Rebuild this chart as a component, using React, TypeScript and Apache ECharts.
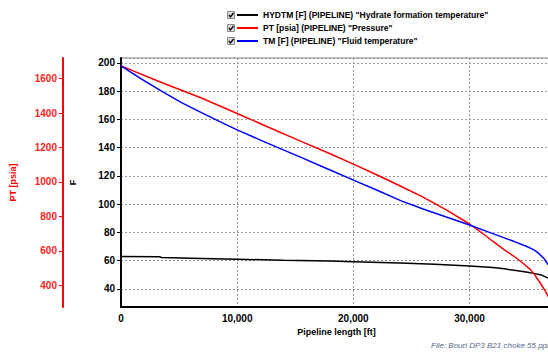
import React, { useEffect, useRef } from "react";
import * as echarts from "echarts";

// Pipeline length [ft] sample positions and values
const hydX = [0, 3300, 3500, 6000, 10000, 14000, 18000, 20000, 24000, 27000, 30000, 32000, 33000, 34000, 35000, 35500, 36200, 36800];
const hydY = [62.9, 62.8, 62.3, 61.8, 61.0, 60.3, 59.7, 59.3, 58.3, 57.4, 56.3, 55.1, 54.2, 53.0, 51.8, 51.0, 49.8, 47.6];

const ptX = [0, 3490, 6921, 10000, 12500, 15500, 18000, 20000, 22000, 24000, 26000, 28000, 30000, 31000, 32000, 33000, 34000, 34600, 35200, 35600, 36000, 36400, 36800];
const ptY = [1674, 1578, 1488, 1398, 1324, 1236, 1164, 1104, 1042, 978, 912, 838, 756, 708, 656, 606, 560, 528, 494, 462, 422, 380, 332];

const tmX = [0, 1775, 3490, 5206, 6921, 8500, 10000, 12500, 15500, 17500, 19960, 22000, 24070, 26000, 28000, 30000, 31300, 32650, 33800, 34940, 35500, 35940, 36400, 36770];
const tmY = [197.9, 188.6, 180.0, 171.9, 164.8, 158.5, 152.6, 143.6, 133.1, 126.0, 117.2, 110.0, 102.5, 96.6, 90.9, 85.3, 81.3, 77.2, 73.7, 70.0, 67.8, 65.3, 61.6, 57.0];

const seriesNames = [
  'HYDTM [F] (PIPELINE) "Hydrate formation temperature"',
  'PT [psia] (PIPELINE) "Pressure"',
  'TM [F] (PIPELINE) "Fluid temperature"',
];
const seriesColors = ["#000000", "#ff0000", "#0000ff"];

const xAxisName = "Pipeline length [ft]";
const fAxisName = "F";
const ptAxisName = "PT [psia]";
const fileLabel = "File: Bouri DP3 B21 choke 55.ppl";

const FONT = "'Liberation Sans', Arial, sans-serif";

const zip = (xs: number[], ys: number[]) => xs.map((x, i) => [x, ys[i]]);

export default function App() {
  const ref = useRef<HTMLDivElement>(null);
  useEffect(() => {
    if (!ref.current) return;
    const chart = echarts.init(ref.current, undefined, { renderer: "svg" });
    const grid = { left: 119, right: 8, top: 58, bottom: 46 };
    const split = { show: true, lineStyle: { color: "#999999", type: [2, 2] as any, width: 1 } };

    const legendRowsY = [15, 28, 41];
    const checkboxes: any[] = [];
    legendRowsY.forEach((cy) => {
      checkboxes.push({
        type: "rect",
        shape: { x: 227.5, y: cy - 3.5, width: 7, height: 7 },
        style: { fill: "#d8d8d8", stroke: "#8a8a8a", lineWidth: 1 },
        silent: true,
      });
      checkboxes.push({
        type: "polyline",
        shape: { points: [[229, cy], [230.5, cy + 2], [233.5, cy - 2]] },
        style: { stroke: "#000", lineWidth: 1.3, fill: "none" },
        silent: true,
      });
    });

    const line = (i: number, yAxisIndex: number, xs: number[], ys: number[]) => ({
      name: seriesNames[i],
      type: "line",
      yAxisIndex,
      data: zip(xs, ys),
      showSymbol: false,
      lineStyle: { color: seriesColors[i], width: 1.5 },
      itemStyle: { color: seriesColors[i] },
    });

    chart.setOption({
      animation: false,
      backgroundColor: "#ffffff",
      textStyle: { fontFamily: FONT },
      grid: { ...grid, show: true, borderColor: "#808080", borderWidth: 1, backgroundColor: "transparent" },
      legend: {
        data: seriesNames,
        orient: "vertical",
        left: 237,
        top: 9.5,
        padding: 0,
        itemWidth: 21,
        itemHeight: 2,
        itemGap: 2,
        icon: "rect",
        selectedMode: false,
        textStyle: { fontFamily: FONT, fontSize: 8.5, fontWeight: "bold", color: "#000", lineHeight: 11 },
      },
      xAxis: {
        type: "value",
        min: 0,
        max: 37100,
        splitNumber: 4,
        minInterval: 10000,
        maxInterval: 10000,
        name: xAxisName,
        nameLocation: "middle",
        nameGap: 18,
        nameTextStyle: { fontFamily: FONT, fontSize: 9, fontWeight: "bold", color: "#000" },
        axisLine: { show: true, lineStyle: { color: "#000", width: 2 } },
        axisTick: { show: false },
        axisLabel: {
          showMaxLabel: false,
          margin: 6,
          fontFamily: FONT,
          fontSize: 10,
          fontWeight: "bold",
          color: "#000",
          formatter: (v: number) => v.toLocaleString("en-US"),
        },
        splitLine: split,
      },
      yAxis: [
        {
          type: "value",
          position: "left",
          offset: 0,
          min: 27.2,
          max: 203.5,
          splitNumber: 9,
          minInterval: 20,
          maxInterval: 20,
          name: fAxisName,
          nameLocation: "middle",
          nameRotate: 90,
          nameGap: 44,
          nameTextStyle: { fontFamily: FONT, fontSize: 9, fontWeight: "bold", color: "#000" },
          axisLine: { show: true, lineStyle: { color: "#000", width: 2 } },
          axisTick: { show: true, length: 4, lineStyle: { color: "#000" } },
          axisLabel: {
            showMinLabel: false,
            showMaxLabel: false,
            margin: 6,
            fontFamily: FONT,
            fontSize: 10,
            fontWeight: "bold",
            color: "#000",
          },
          splitLine: split,
        },
        {
          type: "value",
          position: "left",
          offset: 58,
          min: 274,
          max: 1720,
          splitNumber: 7,
          minInterval: 200,
          maxInterval: 200,
          name: ptAxisName,
          nameLocation: "middle",
          nameRotate: 90,
          nameGap: 46,
          nameTextStyle: { fontFamily: FONT, fontSize: 9, fontWeight: "bold", color: "#ff0000" },
          axisLine: { show: true, lineStyle: { color: "#ff0000", width: 2 } },
          axisTick: { show: true, length: 4, lineStyle: { color: "#ff0000" } },
          axisLabel: {
            showMinLabel: false,
            showMaxLabel: false,
            margin: 6,
            fontFamily: FONT,
            fontSize: 10,
            fontWeight: "bold",
            color: "#ff2222",
            formatter: (v: number) => String(v),
          },
          splitLine: { show: false },
        },
      ],
      series: [
        line(0, 0, hydX, hydY),
        line(1, 1, ptX, ptY),
        line(2, 0, tmX, tmY),
      ],
      graphic: [
        ...checkboxes,
        {
          type: "text",
          left: 431,
          top: 341,
          style: {
            text: fileLabel,
            fontFamily: FONT,
            fontSize: 8,
            fontStyle: "italic",
            fill: "#55698a",
          },
          silent: true,
        },
      ],
    });
    return () => chart.dispose();
  }, []);

  return (
    <div style={{ position: "fixed", left: 0, top: 0, width: 548, height: 353, overflow: "hidden", background: "#fff" }}>
      <div ref={ref} style={{ width: 560, height: 353 }} />
    </div>
  );
}
